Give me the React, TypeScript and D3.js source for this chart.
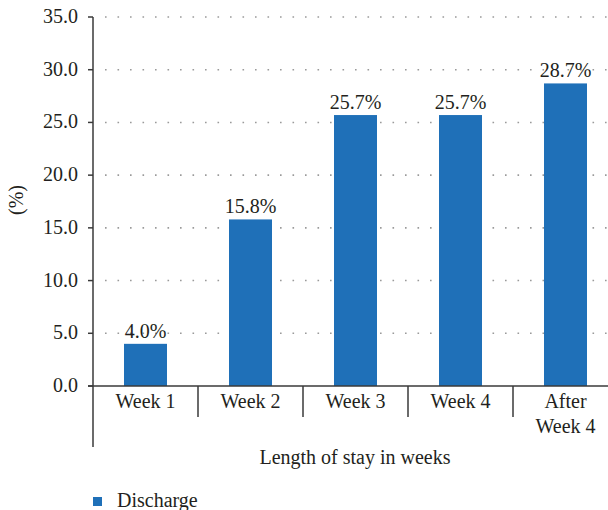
import * as d3 from 'd3';

const categories = ['Week 1', 'Week 2', 'Week 3', 'Week 4', 'After Week 4'];
const categoryLines = [['Week 1'], ['Week 2'], ['Week 3'], ['Week 4'], ['After', 'Week 4']];
const discharge = [4.0, 15.8, 25.7, 25.7, 28.7];
const yTicks = [0, 5, 10, 15, 20, 25, 30, 35];

const W = 608;
const H = 510;
const FONT = '"Liberation Serif", "DejaVu Serif", serif';
const TEXT = '#231f20';
const BAR = '#1f70b8';
const FS = 20;

export default function App() {
  const x = d3.scaleBand().domain(categories).range([93, 618]).paddingInner(0).paddingOuter(0);
  const y = d3.scaleLinear().domain([0, 35]).range([386, 17]);
  const barW = 43;
  const bw = x.bandwidth();

  return (
    <svg
      width={W}
      height={H}
      style={{ position: 'absolute', left: 0, top: 0, background: '#fff' }}
      fontFamily={FONT}
    >
      {/* dotted grid */}
      {yTicks.filter((t) => t > 0).map((t) => (
        <line
          key={'g' + t}
          x1={105}
          x2={W}
          y1={y(t)}
          y2={y(t)}
          stroke="#9a9a9a"
          strokeWidth={1.6}
          strokeDasharray="1.6 10.9"
        />
      ))}

      {/* bars */}
      {discharge.map((v, i) => {
        const cx = x(categories[i])! + bw / 2;
        return (
          <g key={'b' + i}>
            <rect x={cx - barW / 2} y={y(v)} width={barW} height={y(0) - y(v)} fill={BAR} />
            <text x={cx} y={y(v) - 6} textAnchor="middle" fontSize={FS} fill={TEXT}>
              {v.toFixed(1) + '%'}
            </text>
          </g>
        );
      })}

      {/* y axis */}
      <line x1={93} x2={93} y1={17} y2={447} stroke="#3a3a3a" strokeWidth={1.5} />
      {yTicks.map((t) => (
        <g key={'t' + t}>
          <line x1={88} x2={93} y1={y(t)} y2={y(t)} stroke="#3a3a3a" strokeWidth={1.5} />
          <text x={78} y={y(t) + 6} textAnchor="end" fontSize={FS} fill={TEXT}>
            {t.toFixed(1)}
          </text>
        </g>
      ))}

      {/* x axis */}
      <line x1={88} x2={W} y1={y(0)} y2={y(0)} stroke="#3a3a3a" strokeWidth={1.5} />
      {categories.slice(1).map((c) => (
        <line
          key={'s' + c}
          x1={x(c)!}
          x2={x(c)!}
          y1={y(0)}
          y2={417}
          stroke="#3a3a3a"
          strokeWidth={1.5}
        />
      ))}
      {categoryLines.map((lines, i) => (
        <text key={'c' + i} textAnchor="middle" fontSize={FS} fill={TEXT}>
          {lines.map((l, j) => (
            <tspan key={j} x={x(categories[i])! + bw / 2} y={408 + j * 25}>
              {l}
            </tspan>
          ))}
        </text>
      ))}

      <text x={355} y={464} textAnchor="middle" fontSize={FS} fill={TEXT}>
        Length of stay in weeks
      </text>
      <text transform="translate(23,200) rotate(-90)" textAnchor="middle" fontSize={FS} fill={TEXT}>
        (%)
      </text>

      {/* legend */}
      <rect x={93} y={497} width={9} height={9} fill={BAR} />
      <text x={117} y={507} fontSize={FS} fill={TEXT}>
        Discharge
      </text>
    </svg>
  );
}
